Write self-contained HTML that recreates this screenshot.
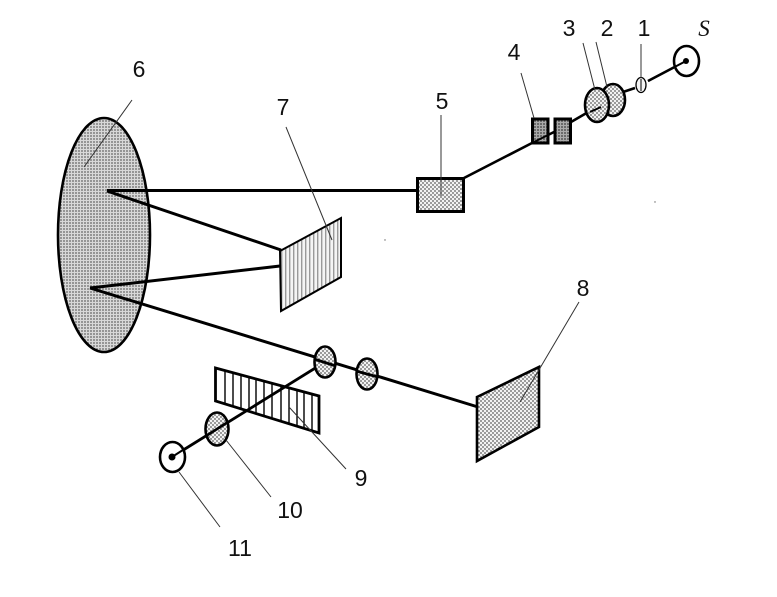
<!DOCTYPE html>
<html><head><meta charset="utf-8"><style>html,body{margin:0;padding:0;background:#fff}svg{display:block}text{font-family:"Liberation Sans",sans-serif;font-size:23px;fill:#111;text-anchor:middle}</style></head><body>
<svg width="777" height="597" viewBox="0 0 777 597" xmlns="http://www.w3.org/2000/svg">
<defs>
<pattern id="d1" width="3" height="3" patternUnits="userSpaceOnUse"><rect width="3" height="3" fill="#d8d8d8"/><circle cx="1" cy="1" r=".9" fill="#666"/></pattern>
<pattern id="d2" width="4" height="4" patternUnits="userSpaceOnUse"><rect width="4" height="4" fill="#f2f2f2"/><circle cx="1" cy="1" r=".95" fill="#777"/><circle cx="3" cy="3" r=".95" fill="#777"/></pattern>
<pattern id="d3" width="3" height="3" patternUnits="userSpaceOnUse"><rect width="3" height="3" fill="#aaa"/><circle cx="1" cy="1" r="1" fill="#555"/></pattern>
<pattern id="v" width="4" height="4" patternUnits="userSpaceOnUse"><rect width="4" height="4" fill="#f4f4f4"/><rect x="1" width="1.400" height="4" fill="#999"/></pattern>
</defs>
<g stroke="#000" stroke-width="2.600" fill="none">
<ellipse cx="104" cy="235" rx="46" ry="117" fill="url(#d1)"/>
<polygon points="280,251 341,218 341,277 281,311" fill="url(#v)" stroke-width="2"/>
<polygon points="477,397 539,367 539,427 477,461" fill="url(#d2)"/>
<rect x="417.500" y="178.500" width="46" height="33" fill="url(#d2)" stroke-width="3"/>
<path d="M107 190.500H417M107 191L281 250M90 288L280 266M90 288L478 407" stroke-width="3"/>
<path d="M464 178L532 143M548 135L554 132M571 122L590 111M620 93L635 88M648 81L686 61" stroke-width="2.600"/>
<rect x="532.500" y="119" width="15.500" height="24" fill="url(#d3)" stroke-width="3"/>
<rect x="555" y="119" width="15.500" height="24" fill="url(#d3)" stroke-width="3"/>
<path d="M532 143L548 135" stroke-width="2"/>
<ellipse cx="613" cy="100" rx="12" ry="16" fill="url(#d2)"/>
<ellipse cx="597" cy="105" rx="12" ry="17" fill="url(#d2)"/>
<path d="M590 112L601 107" stroke-width="2"/>
<ellipse cx="641" cy="85" rx="5" ry="7.500" fill="#f4f4f4" stroke-width="1.300"/>
<path d="M641 79V91" stroke-width="1"/>
<ellipse cx="686.500" cy="61" rx="12.500" ry="15" fill="#fff"/>
<circle cx="686" cy="61" r="3" fill="#000" stroke="none"/>
<path d="M648 81L686 61" stroke-width="2"/>
<polygon points="215.500,368 319,396 319,433 215.500,401" fill="#fff" stroke-width="2.800"/>
<path d="M225 371V404M233 373V406M241 376V409M249 378V411M256 380V413M264 382V415M272 384V418M281 386V421M289 389V423M297 391V426M304 393V428M312 395V431" stroke-width="1.400"/>
<path d="M172 457L325 362" stroke-width="2.800"/>
<ellipse cx="325" cy="362" rx="10.500" ry="15.500" fill="url(#d2)"/>
<ellipse cx="367" cy="374" rx="10.500" ry="15.500" fill="url(#d2)"/>
<path d="M314 359L336 366M356 371L378 377" stroke-width="2.800"/>
<ellipse cx="217" cy="429" rx="11.500" ry="16.500" fill="url(#d2)"/>
<path d="M206 436L228 422" stroke-width="2.600"/>
<ellipse cx="172.500" cy="457" rx="12.500" ry="15" fill="#fff"/>
<path d="M172 457L186 448" stroke-width="2"/>
<circle cx="172" cy="457" r="3.500" fill="#000" stroke="none"/>
</g>
<g stroke="#333" stroke-width="1" fill="none">
<path d="M84 167L132 100M286 127L332 240M441 115V196M521 73L534 118M583 43L595 90M596 42L607 87M641 44V78M579 302L520 402M289 407L346 469M226 440L271 497M179 472L220 527"/>
</g>
<circle cx="385" cy="240" r=".7" fill="#666"/><circle cx="655" cy="202" r=".7" fill="#666"/>
<text x="139" y="77">6</text>
<text x="283" y="115">7</text>
<text x="442" y="109">5</text>
<text x="514" y="60">4</text>
<text x="569" y="36">3</text>
<text x="607" y="36">2</text>
<text x="644" y="36">1</text>
<text x="704" y="36" style="font-family:'Liberation Serif',serif;font-style:italic">S</text>
<text x="583" y="296">8</text>
<text x="361" y="486">9</text>
<text x="290" y="518">10</text>
<text x="240" y="556">11</text>
</svg>
</body></html>
